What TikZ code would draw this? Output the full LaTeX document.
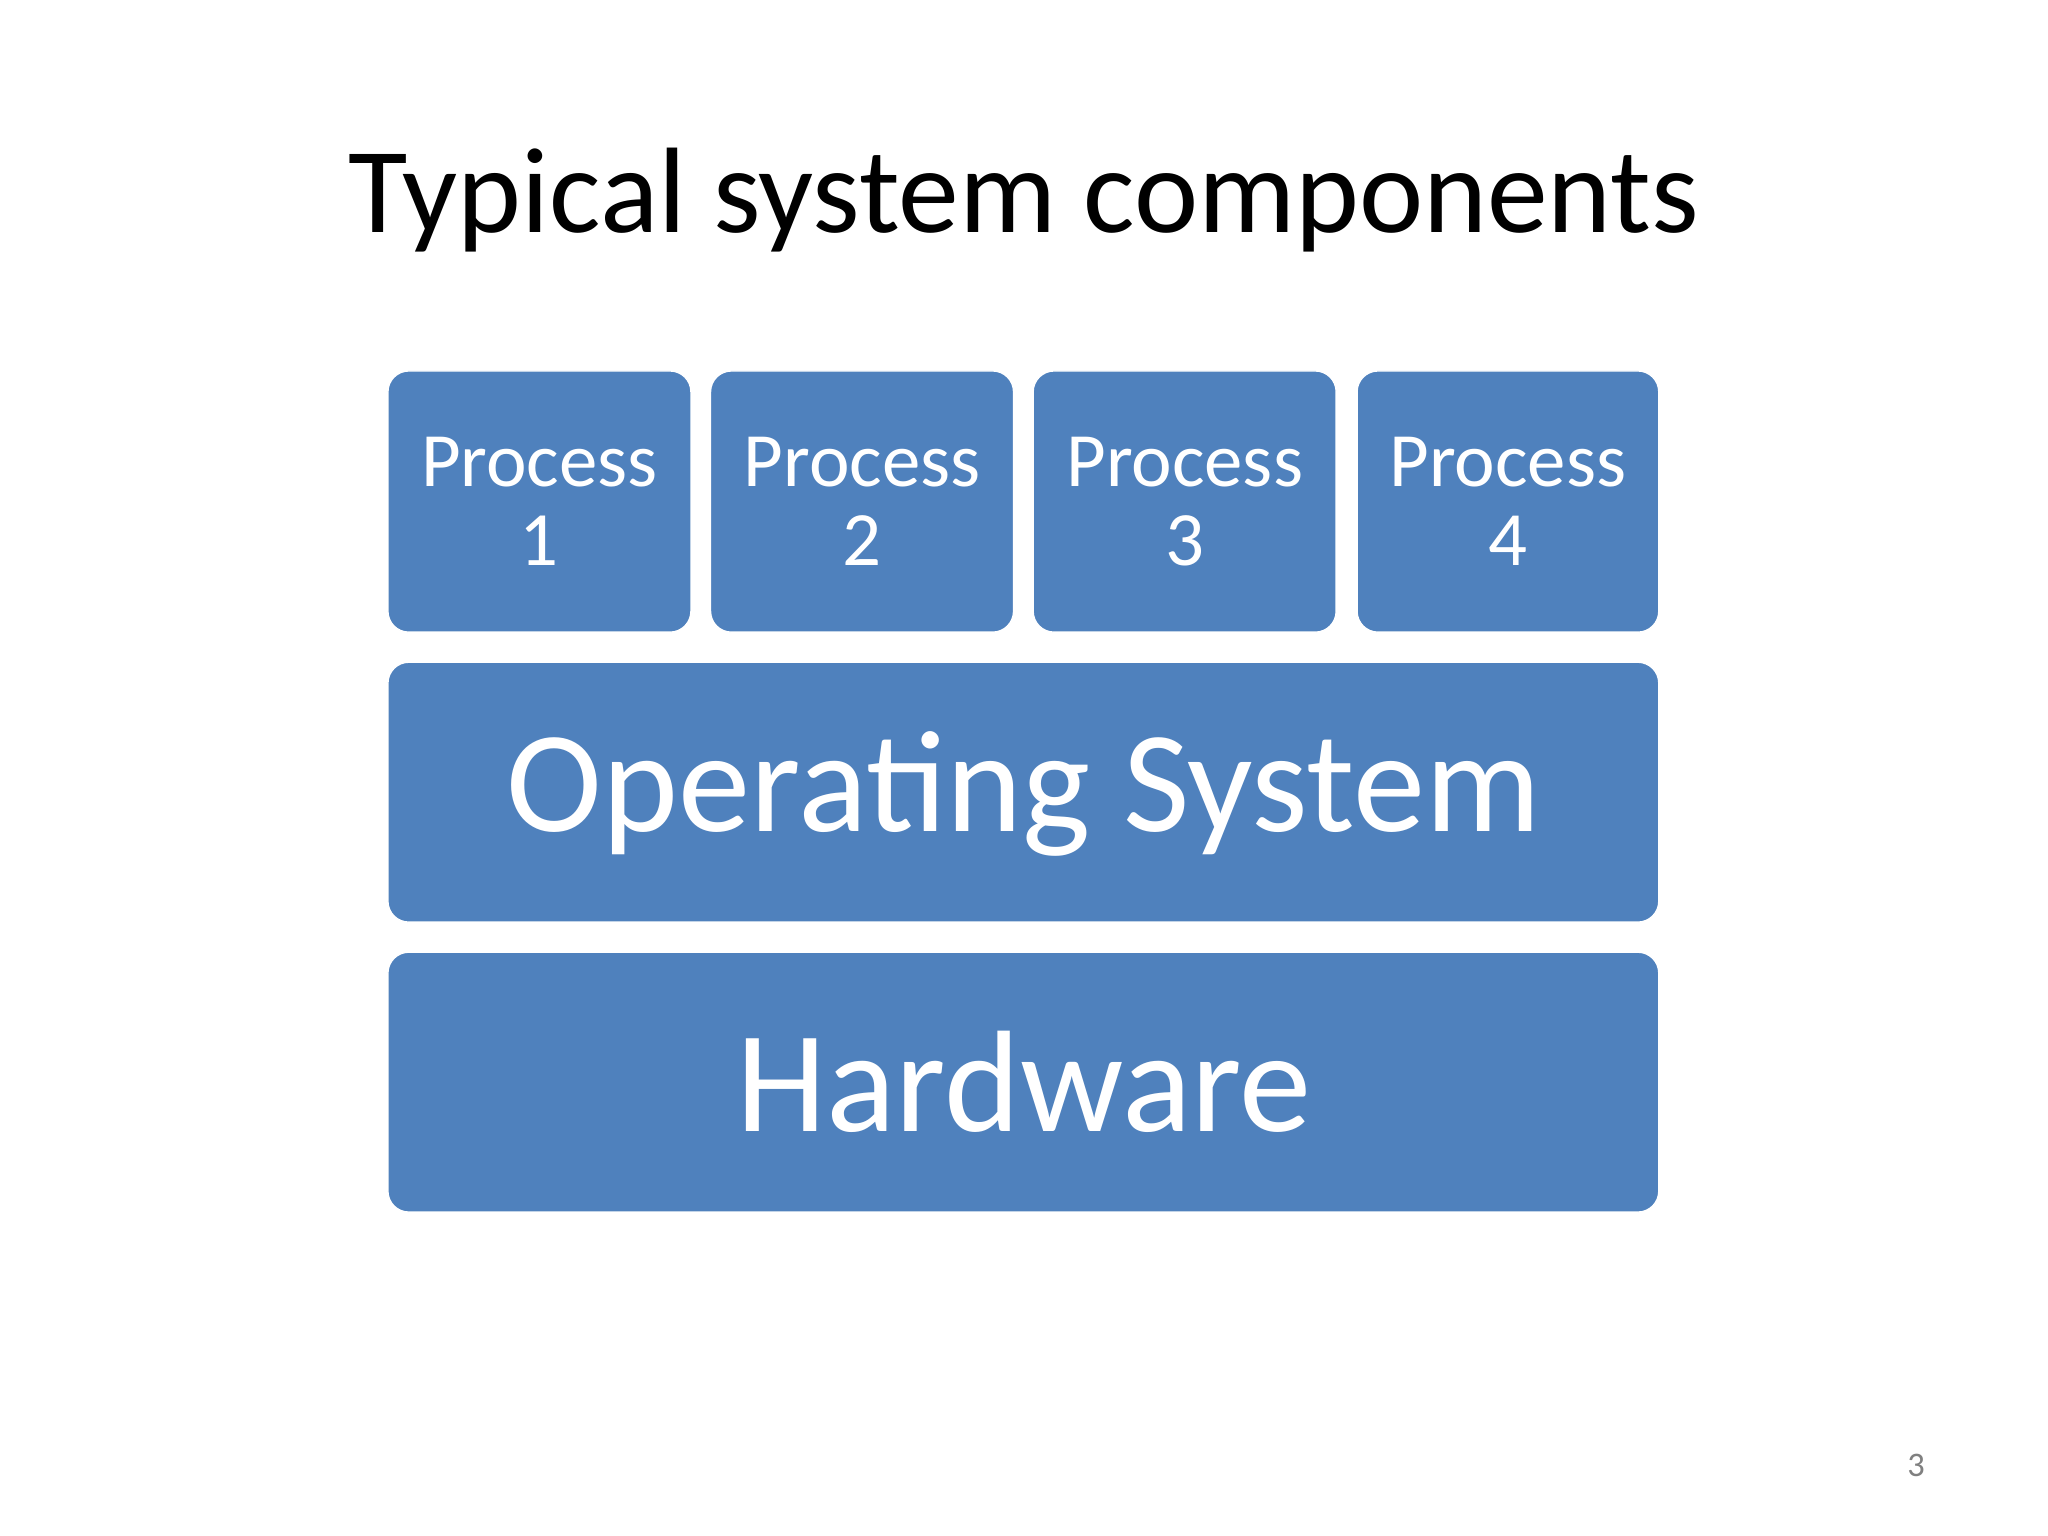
\documentclass[tikz,border=0pt]{standalone}
\usepackage{fontspec}
\setmainfont{Carlito}
\begin{document}
\begin{tikzpicture}[x=0.02cm,y=-0.02cm,
  blk/.style={draw=white,line width=0.6pt,fill={rgb,255:red,79;green,129;blue,189},rounded corners=0.32cm,text=white,inner sep=0pt}]
\useasboundingbox (0,0) rectangle (1568,1176);
\node[font=\fontsize{53}{60}\selectfont,anchor=base] (title) at (784,178) {Typical system components};
\foreach \i/\a/\b in {1/297/529,2/544/776,3/791/1023,4/1039/1270}{
  \path[blk] (\a,284) rectangle (\b,484);
  \node[text=white,align=center,font=\fontsize{33.5}{34.6}\selectfont] (p\i) at ({(\a+\b)/2},384) {Process\\\i};
}
\path[blk] (297,507) rectangle (1270,706);
\node[text=white,font=\fontsize{63}{70}\selectfont] (os) at (784,608) {Operating System};
\path[blk] (297,729) rectangle (1270,928);
\node[text=white,font=\fontsize{63}{70}\selectfont] (hw) at (784,828) {Hardware};
\node[text=gray,font=\fontsize{15}{18}\selectfont] (pg) at (1467,1122) {3};
\end{tikzpicture}
\end{document}
